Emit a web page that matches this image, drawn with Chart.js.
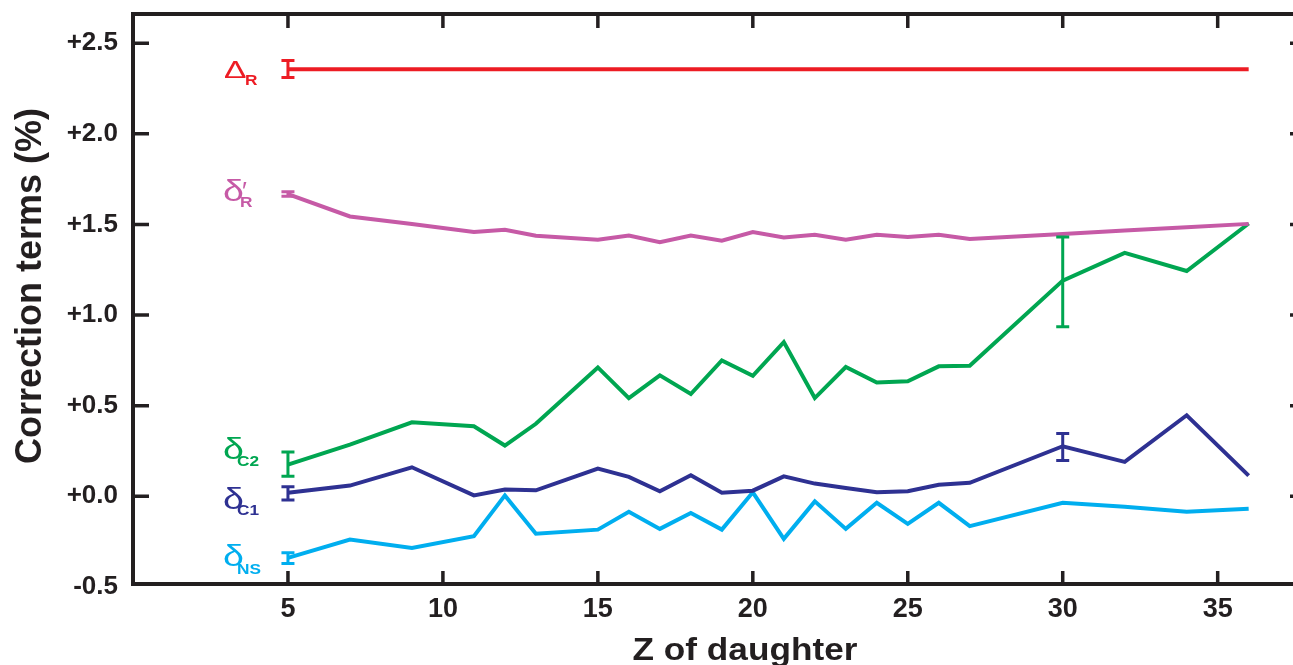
<!DOCTYPE html>
<html><head><meta charset="utf-8">
<script src="https://cdn.jsdelivr.net/npm/chart.js@4.4.0/dist/chart.umd.min.js"></script>
<style>html,body{margin:0;padding:0;overflow:hidden;background:#fff;width:1293px;height:665px}canvas{display:block}</style>
</head><body><canvas id="c" width="1310" height="665"></canvas>
<script>
// ---- data ----
const Z = [5,7,9,11,12,13,15,16,17,18,19,20,21,22,23,24,25,26,27,30,32,34,36];
const deltaR   = [2.356,2.356,2.356,2.356,2.356,2.356,2.356,2.356,2.356,2.356,2.356,2.356,2.356,2.356,2.356,2.356,2.356,2.356,2.356,2.356,2.356,2.356,2.356];
const deltaRp  = [1.667,1.544,1.502,1.458,1.470,1.437,1.416,1.439,1.402,1.439,1.410,1.458,1.428,1.443,1.416,1.443,1.430,1.443,1.420,1.447,1.467,1.484,1.503];
const deltaC2  = [0.175,0.285,0.408,0.386,0.280,0.400,0.711,0.542,0.667,0.564,0.750,0.665,0.851,0.542,0.713,0.628,0.634,0.717,0.720,1.190,1.343,1.243,1.505];
const deltaC1  = [0.019,0.059,0.160,0.005,0.037,0.033,0.153,0.107,0.028,0.116,0.019,0.031,0.110,0.070,0.046,0.022,0.028,0.064,0.074,0.276,0.190,0.447,0.114];
const deltaNS  = [-0.340,-0.239,-0.285,-0.220,0.005,-0.207,-0.184,-0.086,-0.180,-0.092,-0.184,0.022,-0.235,-0.028,-0.180,-0.036,-0.152,-0.036,-0.165,-0.036,-0.058,-0.086,-0.069];

// error bars: Z, low, high
const errRZ = [5],  errRLo = [2.310], errRHi = [2.405];
const errRpZ = [5], errRpLo = [1.655], errRpHi = [1.680];
const errC2Z = [5,30], errC2Lo = [0.110,0.935], errC2Hi = [0.245,1.430];
const errC1Z = [5,30], errC1Lo = [-0.020,0.198], errC1Hi = [0.053,0.346];
const errNSZ = [5], errNSLo = [-0.371], errNSHi = [-0.312];

const xTicks = [5,10,15,20,25,30,35];
const yTicks = [-0.5,0,0.5,1.0,1.5,2.0,2.5];
const yTickLabels = ['-0.5','+0.0','+0.5','+1.0','+1.5','+2.0','+2.5'];

// ---- colors ----
const RED='#ed1c24', MAG='#c65aa6', GREEN='#00a651', NAVY='#2e3192', CYAN='#00aeef', INK='#231f20';
const FONT = '"Liberation Sans", Arial, sans-serif';

const pts = (ys) => Z.map((z,i)=>({x:z,y:ys[i]}));
const mk = (label, ys, color, eZ, eLo, eHi) => ({
  label, data: pts(ys), borderColor: color, backgroundColor: color,
  borderWidth: 4, pointRadius: 0, tension: 0, fill: false,
  borderJoinStyle: 'miter', borderCapStyle: 'butt',
  errZ: eZ, errLo: eLo, errHi: eHi
});

const errorBars = {
  id: 'errorBars',
  afterDatasetsDraw(chart) {
    const {ctx, scales:{x, y}} = chart;
    ctx.save();
    chart.data.datasets.forEach(ds => {
      ctx.strokeStyle = ds.borderColor;
      ctx.lineWidth = 3;
      ds.errZ.forEach((z,i) => {
        const px = x.getPixelForValue(z);
        const yl = y.getPixelForValue(ds.errLo[i]);
        const yh = y.getPixelForValue(ds.errHi[i]);
        ctx.beginPath();
        ctx.moveTo(px, yl); ctx.lineTo(px, yh);
        ctx.moveTo(px-6.5, yl); ctx.lineTo(px+6.5, yl);
        ctx.moveTo(px-6.5, yh); ctx.lineTo(px+6.5, yh);
        ctx.stroke();
      });
    });
    ctx.restore();
  }
};

const frame = {
  id: 'frame',
  afterDraw(chart) {
    const {ctx, chartArea:a, scales:{x, y}} = chart;
    ctx.save();
    ctx.strokeStyle = INK;
    ctx.lineWidth = 4;
    ctx.beginPath();
    ctx.moveTo(a.left-2, a.top); ctx.lineTo(a.right+2, a.top);
    ctx.moveTo(a.right, a.top); ctx.lineTo(a.right, a.bottom);
    ctx.stroke();
    ctx.lineWidth = 3.5;
    ctx.beginPath();
    y.ticks.forEach(t => {
      const py = y.getPixelForValue(t.value);
      if (py > a.bottom) return;
      ctx.moveTo(a.left, py); ctx.lineTo(a.left+16, py);
      ctx.moveTo(a.right, py); ctx.lineTo(a.right-16, py);
    });
    x.ticks.forEach(t => {
      const px = x.getPixelForValue(t.value);
      ctx.moveTo(px, a.bottom); ctx.lineTo(px, a.bottom-13);
      ctx.moveTo(px, a.top); ctx.lineTo(px, a.top+14);
    });
    ctx.stroke();
    ctx.restore();
  }
};

const labels = {
  id: 'seriesLabels',
  afterDatasetsDraw(chart) {
    const {ctx, scales:{x, y}} = chart;
    const x5 = x.getPixelForValue(Z[0]);
    const specs = [
      {ds:0, main:'\u0394', sub:'R', mdx:-64, mdy:9, sdx:-43, sdy:16, delta:true},
      {ds:1, main:'\u03b4', sub:'R', mdx:-65, mdy:7, sdx:-48, sdy:13, prime:true},
      {ds:2, main:'\u03b4', sub:'C2', mdx:-65, mdy:-6, sdx:-51, sdy:1},
      {ds:3, main:'\u03b4', sub:'C1', mdx:-65, mdy:16, sdx:-51, sdy:22},
      {ds:4, main:'\u03b4', sub:'NS', mdx:-65, mdy:8, sdx:-51, sdy:16},
    ];
    ctx.save();
    ctx.textBaseline = 'alphabetic';
    ctx.textAlign = 'left';
    specs.forEach(s => {
      const ds = chart.data.datasets[s.ds];
      const py = y.getPixelForValue(ds.data[0].y);
      ctx.fillStyle = ds.borderColor;
      ctx.save();
      ctx.translate(x5 + s.mdx, py + s.mdy);
      if (s.delta) {
        ctx.scale(1.4, 1);
        ctx.font = '24px ' + FONT;
      } else {
        ctx.scale(1.25, 1);
        ctx.font = '30px ' + FONT;
      }
      ctx.fillText(s.main, 0, 0);
      ctx.restore();
      if (s.prime) {
        ctx.font = '26px ' + FONT;
        ctx.fillText('\u2032', x5 - 46, py + 6);
      }
      ctx.save();
      ctx.translate(x5 + s.sdx, py + s.sdy);
      ctx.scale(1.15, 1);
      ctx.font = 'bold 15px ' + FONT;
      ctx.fillText(s.sub, 0, 0);
      ctx.restore();
    });
    ctx.restore();
  }
};

const titles = {
  id: 'axisTitles',
  afterDraw(chart) {
    const {ctx} = chart;
    ctx.save();
    ctx.fillStyle = INK;
    ctx.textAlign = 'center';
    ctx.textBaseline = 'middle';
    ctx.font = 'bold 36px ' + FONT;
    ctx.translate(31, 286);
    ctx.rotate(-Math.PI/2);
    ctx.fillText('Correction terms (%)', 0, 0);
    ctx.restore();
    ctx.save();
    ctx.fillStyle = INK;
    ctx.textAlign = 'center';
    ctx.textBaseline = 'alphabetic';
    ctx.font = 'bold 32px ' + FONT;
    ctx.translate(745, 660);
    ctx.scale(1.1, 1);
    ctx.fillText('Z of daughter', 0, 0);
    ctx.restore();
  }
};

new Chart(document.getElementById('c'), {
  type: 'line',
  data: {
    datasets: [
      mk('\u0394R', deltaR, RED, errRZ, errRLo, errRHi),
      mk('\u03b4\u2032R', deltaRp, MAG, errRpZ, errRpLo, errRpHi),
      mk('\u03b4C2', deltaC2, GREEN, errC2Z, errC2Lo, errC2Hi),
      mk('\u03b4C1', deltaC1, NAVY, errC1Z, errC1Lo, errC1Hi),
      mk('\u03b4NS', deltaNS, CYAN, errNSZ, errNSLo, errNSHi),
    ]
  },
  options: {
    responsive: false,
    animation: false,
    devicePixelRatio: 1,
    layout: { padding: { top: 14, right: 4, left: 0, bottom: 0 } },
    plugins: { legend: { display: false }, tooltip: { enabled: false } },
    scales: {
      x: {
        type: 'linear', min: 0, max: 37.85,
        afterBuildTicks: s => { s.ticks = xTicks.map(v => ({value: v})); },
        afterFit: s => { s.height = 81; s.paddingLeft = 0; s.paddingRight = 0; },
        grid: { display: false, drawTicks: false },
        border: { display: true, color: INK, width: 4 },
        ticks: { padding: 9, color: INK, maxRotation: 0, font: { family: FONT, weight: 'bold', size: 27 } }
      },
      y: {
        type: 'linear', min: -0.484, max: 2.661,
        afterBuildTicks: s => { s.ticks = yTicks.map(v => ({value: v})); },
        afterFit: s => { s.width = 133; s.paddingTop = 0; s.paddingBottom = 0; },
        grid: { display: false, drawTicks: false },
        border: { display: true, color: INK, width: 4 },
        ticks: {
          padding: 15, color: INK,
          font: { family: FONT, weight: 'bold', size: 26 },
          callback: (v) => { const i = yTicks.indexOf(v); return i >= 0 ? yTickLabels[i] : ''; }
        }
      }
    }
  },
  plugins: [errorBars, labels, frame, titles]
});
</script>
</body></html>
